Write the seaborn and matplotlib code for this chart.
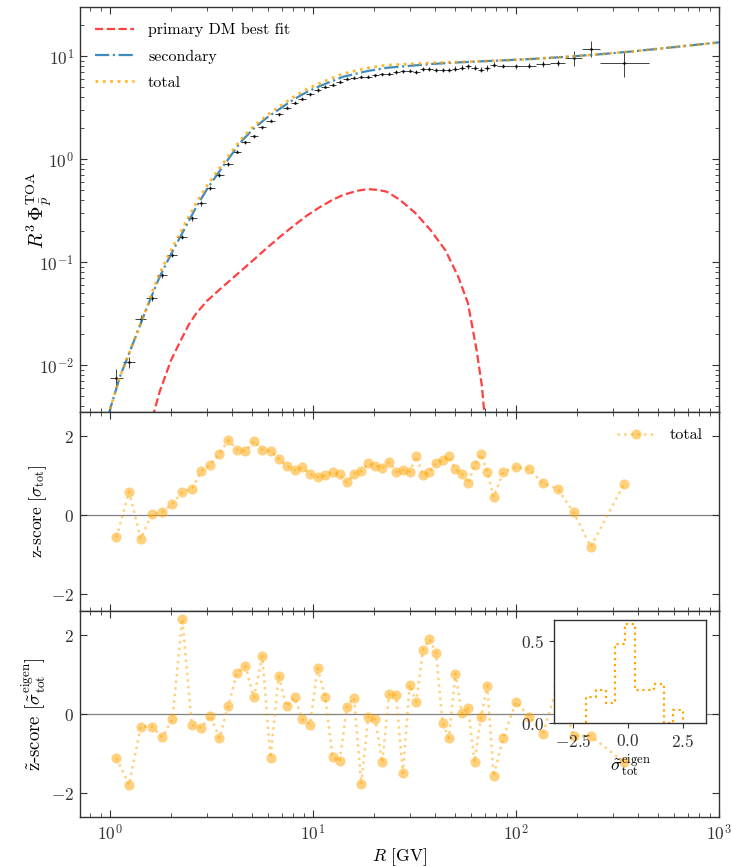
import numpy as np
import matplotlib
matplotlib.use("Agg")
import matplotlib.pyplot as plt
import seaborn as sns

# ---------------- data ----------------
r_edges = [1.00, 1.16, 1.33, 1.51, 1.71, 1.92, 2.15, 2.40, 2.67, 2.97, 3.29, 3.64, 4.02,
           4.43, 4.88, 5.37, 5.90, 6.47, 7.09, 7.76, 8.48, 9.26, 10.1, 11.0, 12.0, 13.0,
           14.1, 15.3, 16.6, 18.0, 19.5, 21.1, 22.8, 24.7, 26.7, 28.8, 31.1, 33.5, 36.1,
           38.9, 41.9, 45.1, 48.5, 52.2, 56.1, 60.3, 64.8, 69.7, 74.9, 80.5, 93.0, 108,
           125, 147, 175, 211, 259, 450]

flux = [0.00757, 0.0107, 0.0284, 0.0452, 0.075, 0.118, 0.177, 0.267, 0.373, 0.526,
        0.70, 0.908, 1.19, 1.46, 1.67, 2.05, 2.38, 2.74, 3.18, 3.56,
        3.88, 4.27, 4.71, 5.06, 5.33, 5.70, 6.05, 6.19, 6.33, 6.33,
        6.57, 6.71, 6.82, 7.08, 7.18, 7.29, 7.08, 7.57, 7.50, 7.40,
        7.34, 7.40, 7.62, 7.80, 8.03, 7.80, 7.46, 7.75, 8.34, 8.03,
        8.03, 8.15, 8.47, 8.66, 9.69, 11.9, 8.66]

flux_err = [0.0016, 0.0013, 0.0026, 0.0030, 0.0045, 0.0065, 0.009, 0.013, 0.017, 0.023,
            0.030, 0.038, 0.048, 0.058, 0.066, 0.08, 0.09, 0.10, 0.12, 0.13,
            0.14, 0.15, 0.17, 0.18, 0.19, 0.20, 0.21, 0.22, 0.22, 0.22,
            0.24, 0.25, 0.26, 0.27, 0.28, 0.29, 0.29, 0.31, 0.32, 0.33,
            0.34, 0.36, 0.38, 0.40, 0.43, 0.44, 0.45, 0.48, 0.52, 0.38,
            0.40, 0.45, 0.50, 0.65, 1.6, 2.1, 2.3]

zscore = [-0.56, 0.59, -0.60, 0.02, 0.08, 0.29, 0.59, 0.66, 1.12, 1.28,
          1.56, 1.90, 1.66, 1.63, 1.88, 1.66, 1.63, 1.43, 1.25, 1.14,
          1.21, 1.05, 0.97, 1.01, 1.10, 1.04, 0.83, 1.05, 1.12, 1.31,
          1.25, 1.20, 1.34, 1.10, 1.14, 1.10, 1.49, 1.02, 1.09, 1.33,
          1.39, 1.49, 1.16, 1.05, 0.81, 1.26, 1.55, 1.10, 0.46, 1.09,
          1.22, 1.17, 0.81, 0.67, 0.07, -0.80, 0.80]

zscore_eigen = [-1.11, -1.79, -0.31, -0.31, -0.58, -0.12, 2.43, -0.27, -0.34, -0.03,
                -0.60, 0.20, 1.05, 1.22, 0.43, 1.47, -1.10, 0.96, 0.20, 0.43,
                -0.12, -0.26, 1.17, 0.45, -1.08, -1.19, 0.18, 0.42, -1.76, -0.06,
                -0.13, -1.22, 0.51, 0.49, -1.49, 0.75, 0.32, 1.63, 1.90, 1.56,
                -0.21, -0.60, 1.03, 0.03, 0.15, -1.21, -0.06, 0.72, -1.57, -0.59,
                0.32, -0.06, -0.50, 0.75, -0.54, -0.55, -1.22]

model_r = [0.98, 1.0, 1.12, 1.30, 1.516, 1.62, 1.76, 2.0, 2.2, 2.45, 2.67, 3.0, 3.4,
           3.76, 4.37, 5.08, 5.91, 6.88, 8.0, 9.3, 10.8, 12.5, 14.1, 16.5, 18.5, 21,
           23.1, 26.8, 32, 38, 45, 52, 58, 64, 68, 70, 83, 120, 177, 260, 377, 600, 1000]

secondary = [0.0032, 0.0037, 0.00776, 0.01637, 0.0358, 0.0491, 0.0728, 0.120, 0.171,
             0.254, 0.349, 0.509, 0.729, 0.957, 1.445, 1.977, 2.53, 3.11, 3.80, 4.50,
             5.15, 5.78, 6.35, 6.83, 7.20, 7.51, 7.75, 7.95, 8.19, 8.43, 8.60, 8.75,
             8.84, 8.92, 8.97, 8.99, 9.12, 9.45, 9.91, 10.5, 11.2, 12.3, 13.7]

primary = [np.nan, np.nan, np.nan, np.nan, np.nan, 0.0031, 0.0056, 0.0112, 0.0165,
           0.0250, 0.0322, 0.0420, 0.0525, 0.0625, 0.081, 0.105, 0.137, 0.177, 0.225,
           0.283, 0.343, 0.405, 0.452, 0.495, 0.514, 0.505, 0.485, 0.405, 0.300, 0.205,
           0.130, 0.072, 0.040, 0.014, 0.0062, 0.0032, np.nan, np.nan, np.nan, np.nan,
           np.nan, np.nan, np.nan]

hist_edges = [-1.89, -1.45, -1.01, -0.57, -0.13, 0.31, 0.75, 1.19, 1.63, 2.07, 2.51]
hist_counts = [4, 5, 3, 12, 15, 5, 5, 6, 0, 2]

# ---------------- style ----------------
sns.set_style("ticks")
plt.rcParams.update({
    "font.family": ["cmr10", "DejaVu Serif"],
    "mathtext.fontset": "cm",
    "axes.formatter.use_mathtext": True,
    "axes.unicode_minus": True,
    "xtick.direction": "in",
    "ytick.direction": "in",
    "axes.edgecolor": "#333333",
    "axes.linewidth": 1.0,
    "xtick.color": "#333333",
    "ytick.color": "#333333",
    "text.color": "black",
    "axes.labelcolor": "black",
})

r_lo = np.array(r_edges[:-1])
r_hi = np.array(r_edges[1:])
r_c = np.sqrt(r_lo * r_hi)
prim = np.array(primary)
total = np.array(secondary) + np.nan_to_num(prim)

W, H = 732, 866
fig = plt.figure(figsize=(W / 100, H / 100), dpi=100)
L = 79.5 / W
Wd = (719 - 79.5) / W

def pos(top, bot):
    return [L, 1 - bot / H, Wd, (bot - top) / H]

ax1 = fig.add_axes(pos(7.3, 412.2))
ax2 = fig.add_axes(pos(412.2, 611.4), sharex=ax1)
ax3 = fig.add_axes(pos(611.4, 817.3), sharex=ax1)

for ax in (ax1, ax2, ax3):
    ax.set_xscale("log")
ax1.set_yscale("log")

TICK = 12.5

# top panel
ax1.errorbar(r_c, flux, xerr=[r_c - r_lo, r_hi - r_c], yerr=flux_err, fmt=".",
             color="k", ms=2, elinewidth=0.7, capsize=0, alpha=0.75, zorder=1)
sns.lineplot(x=model_r, y=primary, ax=ax1, color="red", alpha=0.75, linestyle="--",
             lw=1.6, label="primary DM best fit", estimator=None, sort=False)
sns.lineplot(x=model_r, y=secondary, ax=ax1, color="tab:blue", alpha=0.85,
             linestyle="-.", lw=1.6, label="secondary", estimator=None, sort=False)
sns.lineplot(x=model_r, y=total, ax=ax1, color="orange", alpha=0.8, linestyle=":",
             lw=2.0, label="total", estimator=None, sort=False)
ax1.set_ylim(3.5e-3, 30)
ax1.legend(loc="upper left", frameon=False, fontsize=11.5, handlelength=2.4,
           handletextpad=0.9, labelspacing=0.75, borderaxespad=0.6)
ax1.set_ylabel(r"$R^3\,\Phi_{\bar{p}}^{\rm TOA}$", fontsize=14.5)

# middle panel
ax2.axhline(0, color="grey", lw=0.9, zorder=0)
sns.lineplot(x=r_c, y=zscore, ax=ax2, color="orange", alpha=0.5, linestyle=":",
             lw=1.8, marker="o", markersize=7.3, markeredgewidth=0, label="total",
             estimator=None, sort=False)
ax2.set_ylim(-2.44, 2.61)
ax2.set_yticks([-2, 0, 2])
ax2.legend(loc="upper right", frameon=False, fontsize=11.5, handlelength=2.4,
           handletextpad=0.9, borderaxespad=0.6)
ax2.set_ylabel(r"z-score $[\sigma_{\rm tot}]$", fontsize=12.5)

# bottom panel
ax3.axhline(0, color="grey", lw=0.9, zorder=0)
sns.lineplot(x=r_c, y=zscore_eigen, ax=ax3, color="orange", alpha=0.5, linestyle=":",
             lw=1.8, marker="o", markersize=7.3, markeredgewidth=0,
             estimator=None, sort=False, legend=False)
ax3.set_ylim(-2.61, 2.61)
ax3.set_yticks([-2, 0, 2])
ax3.set_ylabel(r"$\tilde{\rm z}$-score $[\tilde{\sigma}_{\rm tot}^{\rm eigen}]$", fontsize=13.5)
ax3.set_xlabel(r"$R$ [GV]", fontsize=12.5, labelpad=2)

ax1.set_xlim(0.708, 1000)
for ax in (ax1, ax2, ax3):
    ax.tick_params(which="both", direction="in", top=True, right=True, labelsize=TICK,
                   pad=4)
    ax.tick_params(which="major", length=5)
    ax.tick_params(which="minor", length=3)
ax1.tick_params(axis="x", labelbottom=False)
ax2.tick_params(axis="x", labelbottom=False)
ax2.tick_params(axis="y", which="minor", left=False, right=False)
ax3.tick_params(axis="y", which="minor", left=False, right=False)

ax1.yaxis.set_label_coords(-0.040, 0.5)
ax2.yaxis.set_label_coords(-0.048, 0.5)
ax3.yaxis.set_label_coords(-0.050, 0.5)

# inset histogram
axi = fig.add_axes([554 / W, 1 - 723 / H, 152 / W, 103 / H], zorder=5)
centers = [(a + b) / 2 for a, b in zip(hist_edges[:-1], hist_edges[1:])]
axi.hist(centers, bins=hist_edges, weights=hist_counts, density=True, histtype="step",
         linestyle=":", color="orange", lw=1.6)
axi.set_xlim(-3.36, 3.55)
axi.set_ylim(0, 0.625)
axi.set_xticks([-2.5, 0.0, 2.5])
axi.set_yticks([0.0, 0.5])
axi.tick_params(direction="out", labelsize=12.5, top=False, right=False)
axi.set_xlabel(r"$\tilde{\sigma}_{\rm tot}^{\rm eigen}$", fontsize=13, labelpad=2)
axi.set_facecolor("white")

fig.savefig("out.png", dpi=100)
